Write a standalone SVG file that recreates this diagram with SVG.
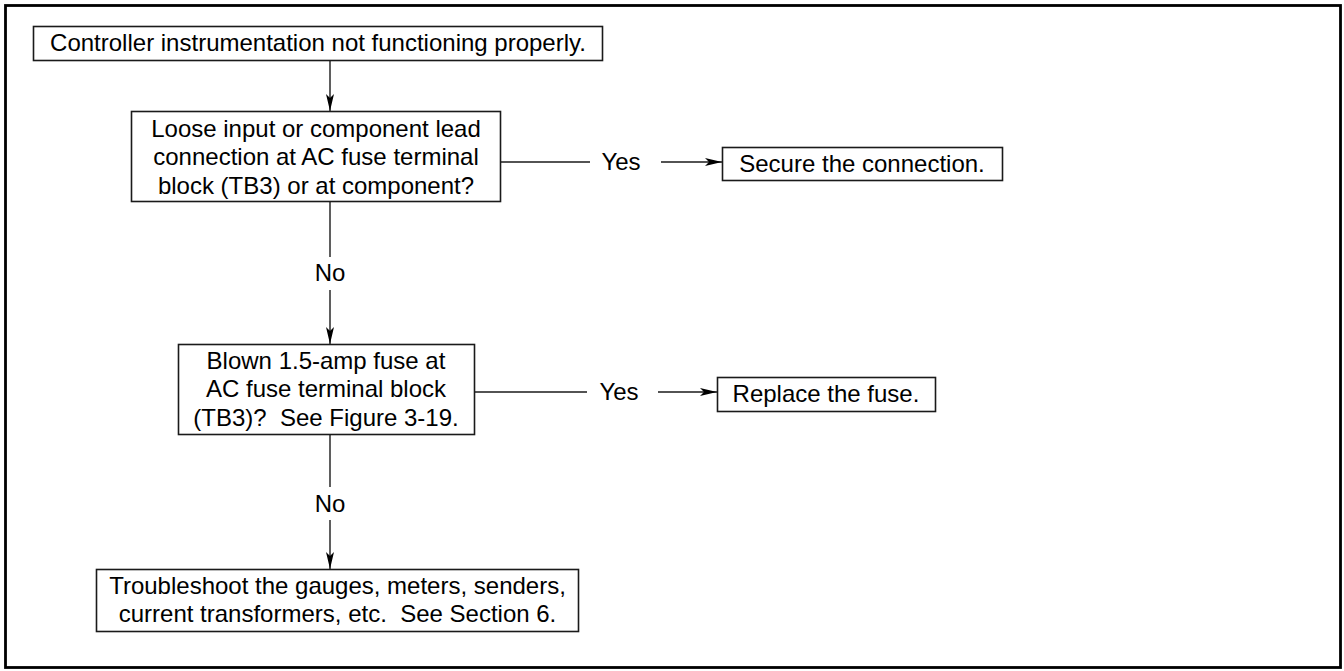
<svg xmlns="http://www.w3.org/2000/svg" width="1344" height="671" viewBox="0 0 1344 671">
<style>
.box{fill:#fff;stroke:#1a1a1a;stroke-width:1.6}
.ln{stroke:#1a1a1a;stroke-width:1.4;fill:none}
.t{font-family:"Liberation Sans",Arial,sans-serif;font-size:24px;fill:#000;text-anchor:middle;dominant-baseline:central}
</style>
<defs>
<marker id="ah" markerWidth="18" markerHeight="10" refX="17" refY="4.5" orient="auto" markerUnits="userSpaceOnUse">
<path d="M0,0.5 L17,4.5 L0,8.5 L4,4.5 Z" fill="#000"/>
</marker>
</defs>
<rect x="5.5" y="5.5" width="1335" height="662" fill="#fff" stroke="#000" stroke-width="2.8"/>
<g id="connectors">
<line class="ln" x1="330" y1="61" x2="330" y2="111" marker-end="url(#ah)"/>
<line class="ln" x1="330" y1="201" x2="330" y2="257"/>
<line class="ln" x1="330" y1="290" x2="330" y2="344" marker-end="url(#ah)"/>
<line class="ln" x1="330" y1="434" x2="330" y2="487"/>
<line class="ln" x1="330" y1="520" x2="330" y2="569" marker-end="url(#ah)"/>
<line class="ln" x1="500" y1="162" x2="590" y2="162"/>
<line class="ln" x1="661" y1="162" x2="722" y2="162" marker-end="url(#ah)"/>
<line class="ln" x1="474" y1="392" x2="587" y2="392"/>
<line class="ln" x1="658" y1="392" x2="717" y2="392" marker-end="url(#ah)"/>
<text class="t" x="330" y="272">No</text>
<text class="t" x="330" y="503">No</text>
<text class="t" x="621" y="161">Yes</text>
<text class="t" x="619" y="391">Yes</text>
</g>
<g id="n1">
<rect class="box" x="33.5" y="26.5" width="569" height="34"/>
<text class="t" x="318" y="42">Controller instrumentation not functioning properly.</text>
</g>
<g id="n2">
<rect class="box" x="131.5" y="111.5" width="369" height="90"/>
<text class="t" x="316" y="128">Loose input or component lead</text>
<text class="t" x="316" y="156.5">connection at AC fuse terminal</text>
<text class="t" x="316" y="185">block (TB3) or at component?</text>
</g>
<g id="n3">
<rect class="box" x="178.5" y="344.5" width="296" height="90"/>
<text class="t" x="326" y="360">Blown 1.5-amp fuse at</text>
<text class="t" x="326" y="388.5">AC fuse terminal block</text>
<text class="t" x="326" y="417" xml:space="preserve">(TB3)?  See Figure 3-19.</text>
</g>
<g id="n4">
<rect class="box" x="722.5" y="147.5" width="280" height="33"/>
<text class="t" x="862" y="163">Secure the connection.</text>
</g>
<g id="n5">
<rect class="box" x="717.5" y="377.5" width="218" height="34"/>
<text class="t" x="826" y="393">Replace the fuse.</text>
</g>
<g id="n6">
<rect class="box" x="96.5" y="569.5" width="482" height="62"/>
<text class="t" x="337.5" y="585" xml:space="preserve">Troubleshoot the gauges, meters, senders,</text>
<text class="t" x="337.5" y="613" xml:space="preserve">current transformers, etc.  See Section 6.</text>
</g>
</svg>
